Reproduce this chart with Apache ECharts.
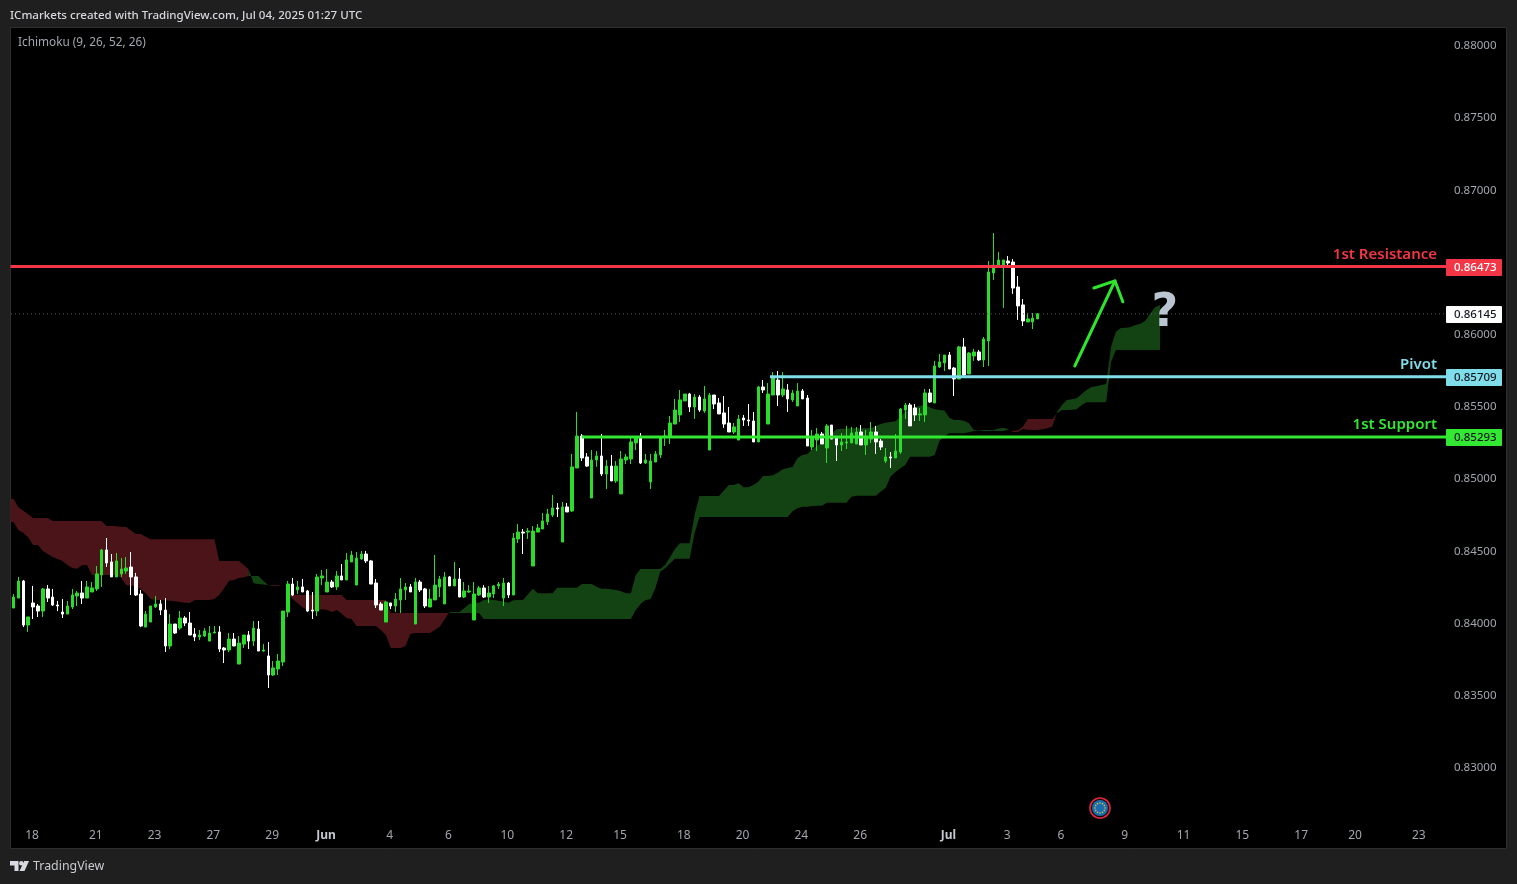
<!DOCTYPE html>
<html>
<head>
<meta charset="utf-8">
<style>html,body{margin:0;padding:0;background:#1f1f1f;overflow:hidden}#c{width:1517px;height:884px}</style>
<script src="https://cdn.jsdelivr.net/npm/echarts@6/dist/echarts.min.js"></script>
</head>
<body>
<div id="c"></div>
<script>
const open = [
0.84108,0.84177,0.84295,0.83990,0.84143,0.84122,0.84087,0.84240,0.84184,0.84129,
0.84080,0.84066,0.84115,0.84191,0.84212,0.84177,0.84219,0.84240,0.84337,0.84510,
0.84427,0.84323,0.84344,0.84364,0.84392,0.84323,0.84205,0.83976,0.84011,0.84115,
0.84136,0.84094,0.83845,0.83997,0.83969,0.84039,0.84004,0.83928,0.83907,0.83914,
0.83879,0.83935,0.83942,0.83831,0.83817,0.83893,0.83720,0.83858,0.83921,0.83879,
0.83962,0.83810,0.83776,0.83644,0.83686,0.83734,0.84080,0.84274,0.84233,0.84254,
0.84226,0.84094,0.84087,0.84316,0.84219,0.84288,0.84254,0.84330,0.84302,0.84427,
0.84267,0.84448,0.84482,0.84434,0.84281,0.84136,0.84011,0.84143,0.84122,0.84164,
0.84233,0.84254,0.83997,0.84288,0.84240,0.84115,0.84164,0.84254,0.84136,0.84323,
0.84261,0.84309,0.84184,0.84219,0.84025,0.84198,0.84247,0.84184,0.84205,0.84261,
0.84177,0.84281,0.84198,0.84586,0.84634,0.84634,0.84399,0.84634,0.84655,0.84704,
0.84752,0.84801,0.84565,0.84808,0.84780,0.85078,0.85299,0.85154,0.84870,0.85133,
0.85161,0.85036,0.85091,0.84988,0.84898,0.85133,0.85140,0.85251,0.85292,0.85112,
0.84981,0.85119,0.85168,0.85292,0.85299,0.85382,0.85445,0.85542,0.85590,0.85500,
0.85569,0.85472,0.85202,0.85583,0.85528,0.85459,0.85389,0.85327,0.85271,0.85424,
0.85410,0.85403,0.85258,0.85639,0.85382,0.85583,0.85687,0.85583,0.85618,0.85549,
0.85507,0.85611,0.85562,0.85223,0.85271,0.85313,0.85216,0.85375,0.85292,0.85237,
0.85251,0.85251,0.85244,0.85327,0.85237,0.85278,0.85327,0.85264,0.85126,0.85154,
0.85147,0.85188,0.85479,0.85514,0.85493,0.85445,0.85445,0.85597,0.85528,0.85777,
0.85805,0.85860,0.85770,0.85694,0.85916,0.85729,0.85853,0.85881,0.85826,0.85957,
0.86428,0.86470,0.86477,0.86511,0.86504,0.86331,0.86207,0.86089,0.86089,0.86110];
const close = [
0.84184,0.84295,0.83990,0.84046,0.84115,0.84087,0.84240,0.84177,0.84129,0.84122,
0.84066,0.84122,0.84198,0.84212,0.84177,0.84254,0.84247,0.84344,0.84510,0.84420,
0.84323,0.84434,0.84378,0.84385,0.84323,0.84198,0.83983,0.84066,0.84122,0.84136,
0.84094,0.83845,0.83997,0.83935,0.84039,0.84004,0.83921,0.83907,0.83921,0.83949,
0.83935,0.83942,0.83824,0.83817,0.83893,0.83845,0.83865,0.83921,0.83879,0.83969,
0.83810,0.83817,0.83644,0.83693,0.83741,0.84087,0.84274,0.84198,0.84254,0.84219,
0.84087,0.84087,0.84323,0.84330,0.84288,0.84254,0.84330,0.84302,0.84441,0.84475,
0.84454,0.84482,0.84434,0.84274,0.84129,0.84094,0.84150,0.84122,0.84170,0.84240,
0.84254,0.84219,0.84288,0.84233,0.84122,0.84170,0.84267,0.84309,0.84323,0.84261,
0.84309,0.84184,0.84226,0.84226,0.84205,0.84247,0.84184,0.84212,0.84261,0.84274,
0.84281,0.84198,0.84593,0.84634,0.84627,0.84641,0.84641,0.84662,0.84711,0.84759,
0.84801,0.84794,0.84808,0.84773,0.85085,0.85299,0.85147,0.85091,0.85133,0.85161,
0.85036,0.85091,0.84988,0.85091,0.85140,0.85154,0.85258,0.85285,0.85112,0.85133,
0.85126,0.85175,0.85285,0.85299,0.85389,0.85479,0.85549,0.85590,0.85500,0.85569,
0.85479,0.85556,0.85583,0.85521,0.85452,0.85382,0.85327,0.85362,0.85417,0.85410,
0.85403,0.85258,0.85639,0.85618,0.85590,0.85708,0.85583,0.85625,0.85556,0.85597,
0.85611,0.85556,0.85230,0.85285,0.85313,0.85244,0.85369,0.85278,0.85237,0.85258,
0.85258,0.85320,0.85327,0.85237,0.85285,0.85327,0.85258,0.85223,0.85154,0.85147,
0.85195,0.85486,0.85514,0.85369,0.85445,0.85452,0.85597,0.85535,0.85784,0.85812,
0.85860,0.85763,0.85694,0.85916,0.85722,0.85874,0.85881,0.85826,0.85971,0.86435,
0.86483,0.86518,0.86518,0.86497,0.86324,0.86200,0.86096,0.86110,0.86116,0.86145];
const low = [
0.84108,0.84177,0.83976,0.83942,0.84032,0.84046,0.84046,0.84150,0.84122,0.84087,
0.84039,0.84066,0.84101,0.84122,0.84136,0.84177,0.84219,0.84226,0.84254,0.84392,
0.84323,0.84323,0.84323,0.84344,0.84198,0.84191,0.83976,0.83976,0.84011,0.84108,
0.84059,0.83803,0.83824,0.83928,0.83956,0.83983,0.83921,0.83879,0.83886,0.83907,
0.83879,0.83935,0.83803,0.83727,0.83803,0.83845,0.83720,0.83831,0.83824,0.83845,
0.83810,0.83803,0.83554,0.83637,0.83644,0.83707,0.84046,0.84191,0.84205,0.84219,
0.84080,0.84032,0.84052,0.84267,0.84219,0.84247,0.84233,0.84302,0.84302,0.84427,
0.84267,0.84441,0.84420,0.84274,0.84108,0.84094,0.84011,0.84101,0.84080,0.84073,
0.84164,0.84219,0.83997,0.84219,0.84108,0.84115,0.84164,0.84184,0.84136,0.84261,
0.84261,0.84184,0.84177,0.84212,0.84025,0.84191,0.84177,0.84143,0.84177,0.84240,
0.84122,0.84177,0.84198,0.84558,0.84482,0.84586,0.84399,0.84634,0.84655,0.84683,
0.84738,0.84738,0.84565,0.84773,0.84773,0.85078,0.85126,0.85085,0.84870,0.85085,
0.85022,0.84932,0.84988,0.84974,0.84898,0.85105,0.85105,0.85202,0.85105,0.85105,
0.84932,0.85119,0.85147,0.85230,0.85244,0.85382,0.85396,0.85542,0.85466,0.85417,
0.85466,0.85459,0.85202,0.85486,0.85452,0.85355,0.85327,0.85313,0.85271,0.85369,
0.85369,0.85258,0.85258,0.85597,0.85382,0.85583,0.85507,0.85569,0.85466,0.85535,
0.85507,0.85556,0.85230,0.85202,0.85195,0.85244,0.85112,0.85278,0.85126,0.85195,
0.85209,0.85251,0.85244,0.85237,0.85168,0.85251,0.85175,0.85202,0.85112,0.85078,
0.85147,0.85175,0.85417,0.85369,0.85403,0.85403,0.85396,0.85528,0.85528,0.85770,
0.85749,0.85763,0.85576,0.85694,0.85715,0.85729,0.85819,0.85819,0.85777,0.85784,
0.86380,0.86463,0.86186,0.86483,0.86283,0.86103,0.86061,0.86089,0.86040,0.86110];
const high = [
0.84205,0.84323,0.84302,0.84046,0.84261,0.84136,0.84247,0.84267,0.84240,0.84157,
0.84170,0.84157,0.84240,0.84226,0.84295,0.84295,0.84288,0.84399,0.84517,0.84593,
0.84482,0.84489,0.84454,0.84461,0.84496,0.84351,0.84233,0.84087,0.84122,0.84191,
0.84164,0.84177,0.84066,0.83997,0.84087,0.84052,0.84080,0.83969,0.83956,0.83969,
0.83983,0.83983,0.83983,0.83838,0.83935,0.83935,0.83914,0.83921,0.83949,0.84018,
0.84018,0.83858,0.83872,0.83741,0.83789,0.84087,0.84295,0.84316,0.84295,0.84309,
0.84233,0.84219,0.84344,0.84371,0.84378,0.84302,0.84364,0.84413,0.84489,0.84503,
0.84496,0.84503,0.84503,0.84441,0.84309,0.84150,0.84157,0.84143,0.84212,0.84316,
0.84281,0.84274,0.84316,0.84302,0.84247,0.84240,0.84475,0.84330,0.84358,0.84330,
0.84427,0.84385,0.84288,0.84267,0.84288,0.84261,0.84267,0.84261,0.84267,0.84288,
0.84316,0.84288,0.84627,0.84690,0.84655,0.84662,0.84676,0.84690,0.84766,0.84794,
0.84891,0.84835,0.84842,0.84835,0.85175,0.85466,0.85313,0.85181,0.85202,0.85195,
0.85313,0.85133,0.85168,0.85126,0.85195,0.85175,0.85285,0.85292,0.85320,0.85175,
0.85175,0.85195,0.85285,0.85341,0.85438,0.85556,0.85618,0.85590,0.85597,0.85590,
0.85583,0.85646,0.85597,0.85583,0.85562,0.85576,0.85500,0.85389,0.85445,0.85445,
0.85521,0.85466,0.85646,0.85687,0.85666,0.85742,0.85749,0.85742,0.85659,0.85618,
0.85666,0.85625,0.85583,0.85341,0.85355,0.85327,0.85382,0.85375,0.85299,0.85320,
0.85369,0.85362,0.85362,0.85375,0.85341,0.85396,0.85369,0.85278,0.85216,0.85188,
0.85313,0.85493,0.85528,0.85528,0.85521,0.85493,0.85625,0.85625,0.85819,0.85867,
0.85860,0.85881,0.85777,0.85923,0.85978,0.85881,0.85902,0.85895,0.85985,0.86511,
0.86705,0.86574,0.86518,0.86546,0.86525,0.86407,0.86248,0.86151,0.86151,0.86151];

const spanA = [
0.84704,0.84648,0.84630,0.84598,0.84544,0.84544,0.84503,0.84482,0.84461,0.84448,
0.84434,0.84406,0.84385,0.84380,0.84404,0.84406,0.84339,0.84330,0.84337,0.84337,
0.84337,0.84337,0.84316,0.84267,0.84263,0.84261,0.84238,0.84210,0.84170,0.84164,
0.84164,0.84162,0.84159,0.84155,0.84150,0.84145,0.84143,0.84164,0.84164,0.84164,
0.84164,0.84170,0.84198,0.84245,0.84297,0.84302,0.84316,0.84321,0.84330,0.84330,
0.84330,0.84295,0.84267,0.84261,0.84261,0.84261,0.84198,0.84170,0.84141,0.84113,
0.84094,0.84090,0.84090,0.84099,0.84094,0.84081,0.84094,0.84069,0.84037,0.84032,
0.83984,0.83984,0.83984,0.83984,0.83984,0.83954,0.83921,0.83831,0.83831,0.83831,
0.83845,0.83928,0.83935,0.83935,0.83935,0.83935,0.83956,0.83979,0.84030,0.84081,
0.84081,0.84081,0.84106,0.84136,0.84143,0.84145,0.84164,0.84168,0.84164,0.84159,
0.84152,0.84145,0.84162,0.84164,0.84164,0.84203,0.84242,0.84210,0.84210,0.84210,
0.84210,0.84249,0.84249,0.84249,0.84249,0.84249,0.84274,0.84274,0.84274,0.84256,
0.84242,0.84242,0.84238,0.84233,0.84224,0.84210,0.84210,0.84337,0.84378,0.84378,
0.84378,0.84378,0.84378,0.84406,0.84459,0.84517,0.84556,0.84556,0.84556,0.84752,
0.84884,0.84884,0.84884,0.84884,0.84884,0.84921,0.84960,0.84960,0.84972,0.84944,
0.84944,0.84960,0.84983,0.85022,0.85022,0.85027,0.85045,0.85069,0.85078,0.85085,
0.85145,0.85168,0.85175,0.85207,0.85230,0.85256,0.85283,0.85318,0.85346,0.85350,
0.85350,0.85353,0.85353,0.85353,0.85353,0.85353,0.85369,0.85382,0.85391,0.85396,
0.85401,0.85433,0.85466,0.85484,0.85498,0.85507,0.85514,0.85498,0.85484,0.85479,
0.85475,0.85426,0.85410,0.85410,0.85405,0.85387,0.85341,0.85341,0.85341,0.85341,
0.85339,0.85352,0.85357,0.85348,0.85327,0.85327,0.85348,0.85343,0.85341,0.85341,
0.85346,0.85353,0.85364,0.85468,0.85514,0.85549,0.85553,0.85560,0.85590,0.85618,
0.85639,0.85643,0.85652,0.85659,0.85918,0.86022,0.86047,0.86049,0.86054,0.86068,
0.86077,0.86098,0.86149,0.86190,0.86207];
const spanB = [
0.84865,0.84806,0.84782,0.84757,0.84731,0.84731,0.84731,0.84731,0.84711,0.84711,
0.84711,0.84711,0.84711,0.84711,0.84711,0.84711,0.84711,0.84711,0.84711,0.84676,
0.84676,0.84674,0.84671,0.84669,0.84644,0.84621,0.84621,0.84602,0.84584,0.84584,
0.84584,0.84584,0.84584,0.84584,0.84584,0.84584,0.84584,0.84584,0.84584,0.84584,
0.84584,0.84584,0.84434,0.84434,0.84434,0.84434,0.84434,0.84406,0.84376,0.84279,
0.84274,0.84270,0.84267,0.84267,0.84265,0.84261,0.84198,0.84198,0.84198,0.84198,
0.84198,0.84198,0.84198,0.84198,0.84198,0.84198,0.84198,0.84198,0.84164,0.84164,
0.84164,0.84164,0.84164,0.84164,0.84164,0.84164,0.84164,0.84074,0.84074,0.84074,
0.84074,0.84074,0.84074,0.84074,0.84074,0.84074,0.84074,0.84074,0.84074,0.84074,
0.84074,0.84074,0.84074,0.84074,0.84074,0.84074,0.84032,0.84032,0.84032,0.84032,
0.84032,0.84032,0.84032,0.84032,0.84032,0.84032,0.84032,0.84032,0.84032,0.84032,
0.84032,0.84032,0.84032,0.84032,0.84032,0.84032,0.84032,0.84032,0.84032,0.84032,
0.84032,0.84032,0.84032,0.84032,0.84032,0.84032,0.84032,0.84094,0.84136,0.84164,
0.84168,0.84245,0.84360,0.84383,0.84418,0.84450,0.84450,0.84450,0.84450,0.84626,
0.84738,0.84738,0.84738,0.84738,0.84738,0.84738,0.84738,0.84738,0.84738,0.84738,
0.84738,0.84738,0.84738,0.84738,0.84738,0.84738,0.84738,0.84738,0.84738,0.84778,
0.84799,0.84810,0.84810,0.84815,0.84817,0.84817,0.84837,0.84837,0.84837,0.84837,
0.84837,0.84879,0.84886,0.84886,0.84886,0.84886,0.84886,0.84914,0.84939,0.85018,
0.85050,0.85076,0.85098,0.85156,0.85156,0.85156,0.85156,0.85156,0.85168,0.85267,
0.85299,0.85318,0.85318,0.85318,0.85318,0.85325,0.85334,0.85339,0.85334,0.85334,
0.85334,0.85334,0.85334,0.85343,0.85334,0.85339,0.85364,0.85417,0.85417,0.85417,
0.85417,0.85417,0.85417,0.85457,0.85479,0.85479,0.85481,0.85484,0.85514,0.85533,
0.85533,0.85533,0.85533,0.85535,0.85814,0.85895,0.85895,0.85895,0.85895,0.85895,
0.85895,0.85895,0.85895,0.85895,0.85895];

const yTicks = [0.83,0.835,0.84,0.845,0.85,0.855,0.86,0.87,0.875,0.88];
const xTickIndex = [4,17,29,41,53,64,77,89,101,113,124,137,149,161,173,191,203,214,227,239,251,263,274,287];
const xTickLabels = ['18','21','23','27','29','Jun','4','6','10','12','15','18','20','24','26','Jul','3','6','9','11','15','17','20','23'];

const levelNames = ['1st Resistance','Pivot','1st Support'];
const levelValues = [0.86473,0.85709,0.85293];
const levelStarts = [-0.6,154.4,116];
const levelColors = ['#f23645','#80deea','#33e833'];
const levelTagText = ['#ffffff','#131722','#131722'];
const lastPrice = 0.86145;
const levelEnd = 292.6;

const arrowX = [216.6,224.8];
const arrowY = [0.85784,0.86373];
const arrowHeadX = [220.5,224.8,226.4];
const arrowHeadY = [0.86324,0.86373,0.86229];

const FONT = '"Noto Sans", sans-serif';
const BAR_COUNT = 305;

const categories = [];
for (let i = 0; i < BAR_COUNT; i++) {
  const k = xTickIndex.indexOf(i);
  categories.push(k >= 0 ? xTickLabels[k] : '');
}
const candleData = open.map((o, i) => [o, close[i], low[i], high[i]]);
const cloudData = spanA.map((a, i) => [i, a, spanB[i]]);

const segmentEnd = {};
const segmentUp = {};
(function () {
  const upAt = i => (spanA[i] + spanA[i + 1]) >= (spanB[i] + spanB[i + 1]);
  let s = 0;
  for (let i = 1; i <= spanA.length - 1; i++) {
    if (i === spanA.length - 1 || upAt(i) !== upAt(s)) {
      segmentEnd[s] = i;
      segmentUp[s] = upAt(s);
      s = i;
    }
  }
})();

function renderCloud(params, api) {
  const s = api.value(0);
  if (!(s in segmentEnd)) return null;
  const e = segmentEnd[s];
  const pts = [];
  if (s === 0) pts.push(api.coord([-0.6, spanA[0]]));
  for (let i = s; i <= e; i++) pts.push(api.coord([i, spanA[i]]));
  for (let i = e; i >= s; i--) pts.push(api.coord([i, spanB[i]]));
  if (s === 0) pts.push(api.coord([-0.6, spanB[0]]));
  return {
    type: 'polygon',
    shape: { points: pts },
    style: { fill: segmentUp[s] ? '#134313' : '#4a1418' }
  };
}

function renderTags(params, api) {
  const k = params.dataIndex;
  const val = api.value(1);
  const p = api.coord([292.36, val]);
  const isLevel = k < levelValues.length;
  const bg = isLevel ? levelColors[k] : '#ffffff';
  const fg = isLevel ? levelTagText[k] : '#131722';
  const children = [
    { type: 'rect', shape: { x: p[0], y: Math.round(p[1]) - 8, width: 56, height: 17, r: 1 }, style: { fill: bg } },
    { type: 'text', style: { x: p[0] + 8, y: Math.round(p[1]) + 1, text: val.toFixed(5), fill: fg, font: '500 11.5px ' + FONT, textAlign: 'left', textVerticalAlign: 'middle' } }
  ];
  if (isLevel) {
    children.push({ type: 'text', style: { x: p[0] - 9, y: p[1] - 12, text: levelNames[k], fill: levelColors[k], font: '600 15px ' + FONT, textAlign: 'right', textVerticalAlign: 'middle' } });
  }
  return { type: 'group', children };
}

function renderArrow(params, api) {
  const shaft = arrowX.map((x, i) => api.coord([x, arrowY[i]]));
  const head = arrowHeadX.map((x, i) => api.coord([x, arrowHeadY[i]]));
  const st = { fill: null, stroke: '#2ee62e', lineWidth: 3, lineCap: 'round', lineJoin: 'round' };
  const q = api.coord([api.value(0), api.value(1)]);
  return {
    type: 'group',
    children: [
      { type: 'polyline', shape: { points: shaft }, style: st },
      { type: 'polyline', shape: { points: head }, style: st },
      { type: 'text', style: { x: q[0], y: q[1], text: '?', fill: '#b9c6d2', font: 'bold 46px "DejaVu Sans", sans-serif', textAlign: 'center', textVerticalAlign: 'middle' } }
    ]
  };
}

const levelSeries = levelValues.map((v, k) => ({
  type: 'line', xAxisIndex: 1, yAxisIndex: 0, z: 5, silent: true, showSymbol: false, symbol: 'none',
  data: [[levelStarts[k], v], [levelEnd, v]],
  lineStyle: { color: levelColors[k], width: 3 }
}));

const flagDots = [];
for (let d = 0; d < 12; d++) {
  const t = d / 12 * Math.PI * 2;
  flagDots.push({ type: 'circle', shape: { cx: 1100 + 5 * Math.cos(t), cy: 808 + 5 * Math.sin(t), r: 0.8 }, style: { fill: '#d8c53a' }, z: 50 });
}

const chart = echarts.init(document.getElementById('c'), null, { renderer: 'canvas', width: 1517, height: 884 });
chart.setOption({
  animation: false,
  backgroundColor: '#1f1f1f',
  grid: { left: 11, top: 27, width: 1494.5, height: 822, show: false, containLabel: false },
  xAxis: [
    { type: 'category', data: categories, boundaryGap: true, axisLine: { show: false }, axisTick: { show: false }, splitLine: { show: false },
      axisLabel: { inside: true, interval: 0, margin: 7, color: '#a3a6af', fontSize: 12, fontFamily: FONT, padding: [0, 2, 0, 0],
        formatter: v => (v === 'Jun' || v === 'Jul') ? '{b|' + v + '}' : v,
        rich: { b: { fontWeight: 'bold', color: '#c4c7cf', fontSize: 12, fontFamily: FONT } } } },
    { type: 'value', min: -0.5, max: 304.5, show: false, splitLine: { show: false } }
  ],
  yAxis: { type: 'value', position: 'right', min: 0.824391, max: 0.881316, scale: true,
    axisLine: { show: false }, axisTick: { show: false }, splitLine: { show: false },
    axisLabel: { inside: true, margin: 9, color: '#a3a6af', fontSize: 11.5, fontFamily: FONT, padding: [3, 0, 0, 0], customValues: yTicks, formatter: v => v.toFixed(5) } },
  series: [
    { type: 'custom', name: 'Cloud', xAxisIndex: 1, yAxisIndex: 0, z: 1, silent: true, renderItem: renderCloud, data: cloudData, encode: { x: 0, y: [1, 2] }, clip: false },
    { type: 'candlestick', name: 'Price', xAxisIndex: 0, yAxisIndex: 0, z: 3, silent: true, data: candleData, barWidth: 3, clip: true,
      itemStyle: { color: '#2bdc2b', color0: '#ffffff', borderColor: '#2bdc2b', borderColor0: '#ffffff', borderWidth: 1 } },
    { type: 'line', name: 'Last', xAxisIndex: 1, yAxisIndex: 0, z: 4, silent: true, symbol: 'none', data: [[-0.5, lastPrice], [levelEnd, lastPrice]],
      lineStyle: { color: '#5a5a5a', width: 1, type: [1, 3] } },
    ...levelSeries,
    { type: 'custom', name: 'Tags', xAxisIndex: 1, yAxisIndex: 0, z: 8, silent: true, clip: false, renderItem: renderTags,
      data: levelValues.concat(lastPrice).map((v, k) => [k, v]), encode: { x: 0, y: 1 } },
    { type: 'custom', name: 'Arrow', xAxisIndex: 1, yAxisIndex: 0, z: 7, silent: true, clip: false, renderItem: renderArrow,
      data: [[235, 0.86144]], encode: { x: 0, y: 1 } }
  ],
  graphic: { elements: [
    { type: 'rect', z: -5, shape: { x: 10.5, y: 27.5, width: 1496, height: 821 }, style: { fill: '#000000', stroke: '#2e2e2e', lineWidth: 1 } },
    { type: 'text', left: 10, top: 10, z: 50, style: { text: 'ICmarkets created with TradingView.com, Jul 04, 2025 01:27 UTC', fill: '#d6d8de', font: '500 11.55px ' + FONT } },
    { type: 'text', left: 18, top: 37, z: 50, style: { text: 'Ichimoku (9, 26, 52, 26)', fill: '#a3a6af', font: '11.8px ' + FONT } },
    { type: 'text', left: 33, top: 860, z: 50, style: { text: 'TradingView', fill: '#c8cad0', font: '12.4px ' + FONT } },
    { type: 'polygon', z: 50, shape: { points: [[10,861],[18.5,861],[18.5,871],[14.5,871],[14.5,865.5],[10,865.5]] }, style: { fill: '#d8dadf' } },
    { type: 'circle', z: 50, shape: { cx: 21.3, cy: 863.2, r: 2.2 }, style: { fill: '#d8dadf' } },
    { type: 'polygon', z: 50, shape: { points: [[24.2,861],[29,861],[24.5,871],[19.5,871]] }, style: { fill: '#d8dadf' } },
    { type: 'circle', z: 50, shape: { cx: 1100, cy: 808, r: 10 }, style: { fill: '#0d0d0d', stroke: '#e0283c', lineWidth: 1.6 } },
    { type: 'circle', z: 50, shape: { cx: 1100, cy: 808, r: 8 }, style: { fill: '#1c6db0' } },
    ...flagDots
  ] }
});
</script>
</body>
</html>
